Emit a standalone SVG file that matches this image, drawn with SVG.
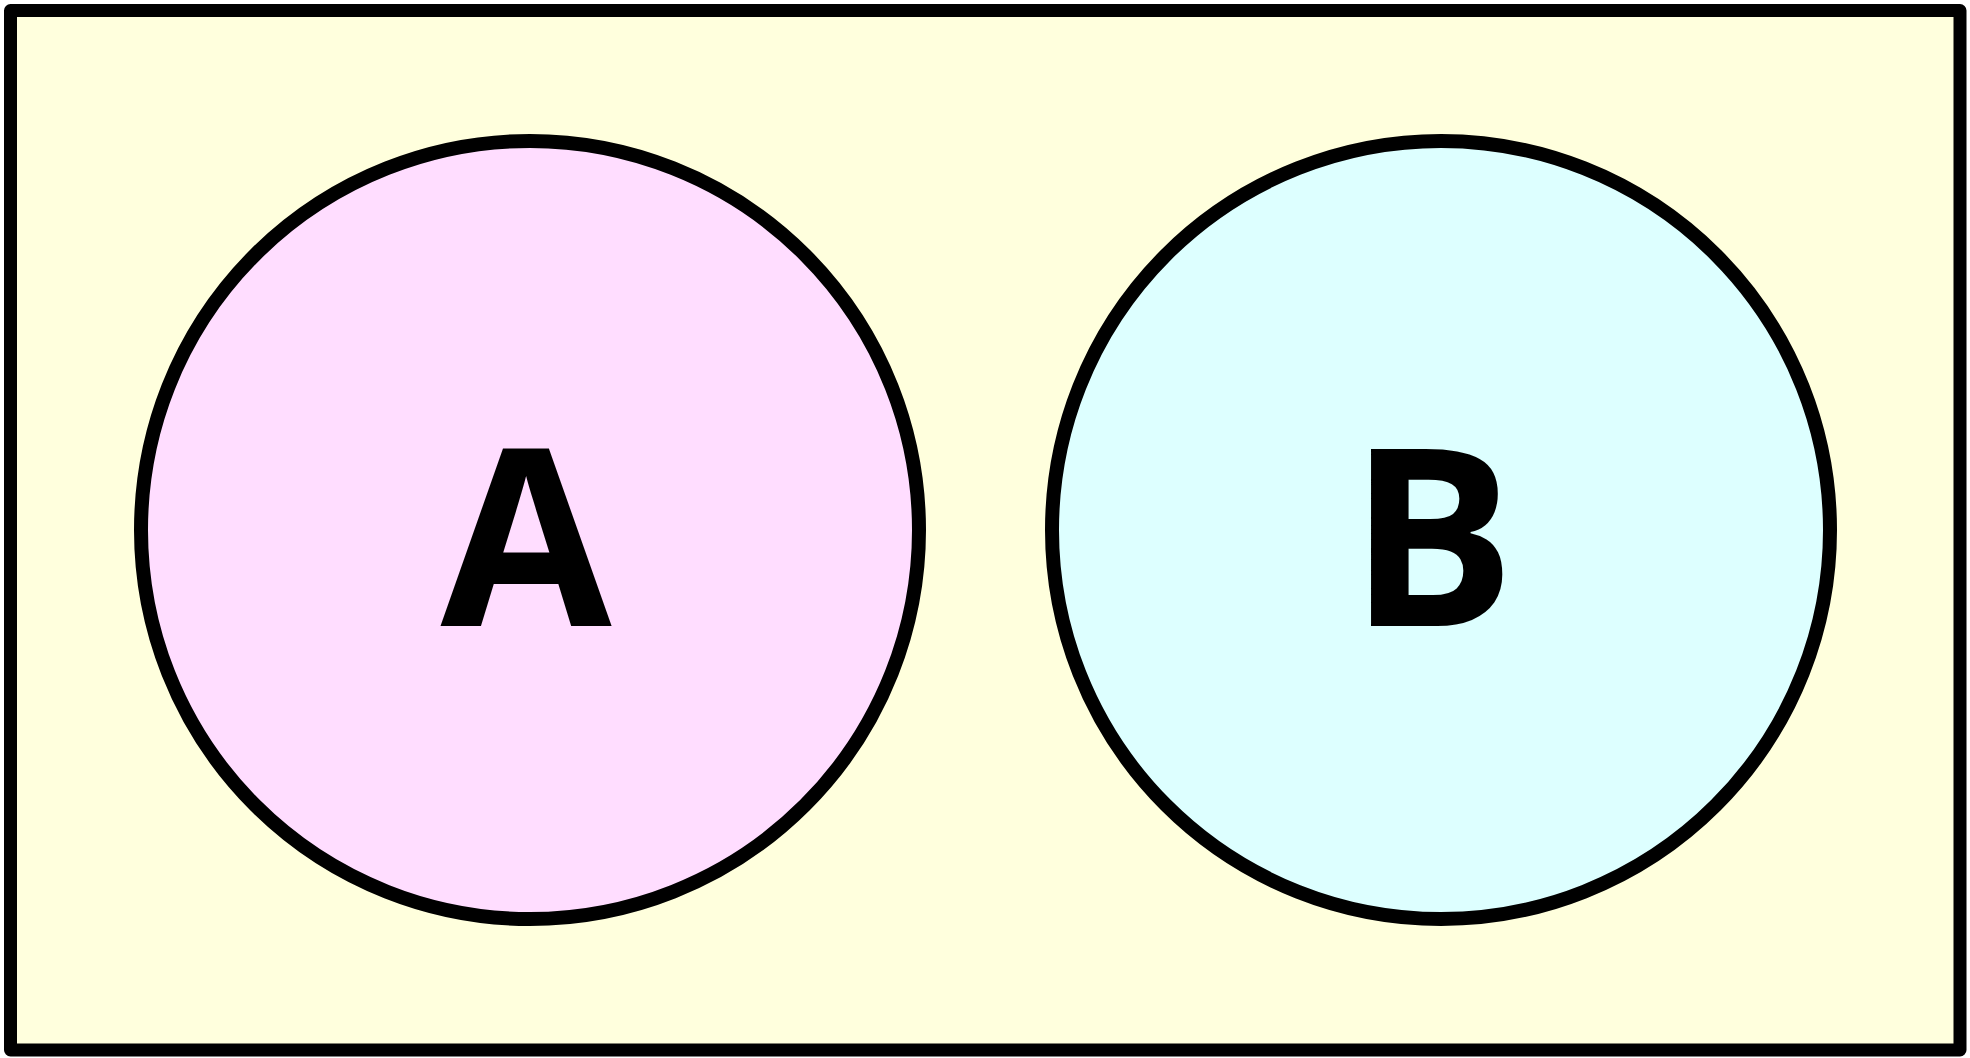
<svg xmlns="http://www.w3.org/2000/svg" width="1970" height="1058" viewBox="0 0 1970 1058">
<style>
.frame{fill:#FFFFDD;stroke:#000;stroke-width:13;stroke-linejoin:round}
.set{stroke:#000;stroke-width:14}
.lbl{font-family:"Open Sans","Liberation Sans",Arial,sans-serif;font-weight:bold;font-size:248px;text-anchor:middle;fill:#000}
</style>
<rect width="1970" height="1058" fill="#ffffff"/>
<g id="universe"><rect class="frame" x="10.5" y="10.5" width="1949.5" height="1039.5"/></g>
<g id="setA">
<circle class="set" cx="530" cy="530" r="389" fill="#FFDDFF"/>
<text class="lbl" x="526" y="626">A</text>
</g>
<g id="setB">
<circle class="set" cx="1441" cy="530" r="389" fill="#DDFFFF"/>
<text class="lbl" x="1432" y="626">B</text>
</g>
<g id="connectors"></g>
</svg>
